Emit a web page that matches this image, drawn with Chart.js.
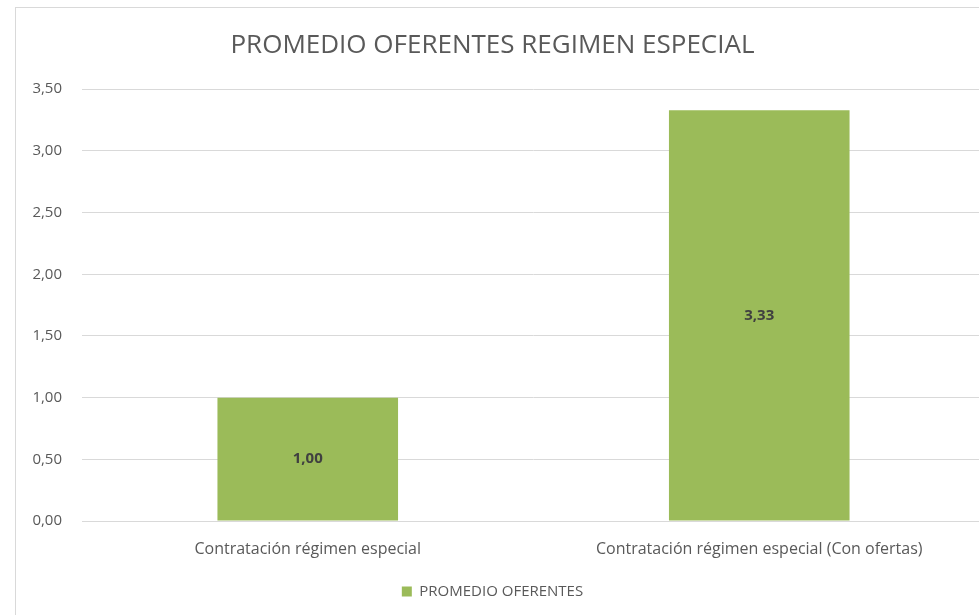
<!DOCTYPE html>
<html>
<head>
<meta charset="utf-8">
<script src="https://cdn.jsdelivr.net/npm/chart.js@4/dist/chart.umd.min.js"></script>
<style>
  html, body { margin: 0; padding: 0; background: #fff; overflow: hidden; }
  body { width: 979px; height: 615px; position: relative; }
  #frame { position: absolute; left: 15px; top: 7px; width: 1000px; height: 700px; border: 1px solid #d9d9d9; box-sizing: border-box; }
  #wrap { position: absolute; left: 0; top: 0; width: 992px; height: 615px; }
</style>
</head>
<body>
<div id="frame"></div>
<div id="wrap"><canvas id="grafica"></canvas></div>
<script>
// Datos del grafico
const categorias = ['Contratación régimen especial', 'Contratación régimen especial (Con ofertas)'];
const promedioOferentes = [1.00, 3.33];
const serieNombre = 'PROMEDIO OFERENTES';
const titulo = 'PROMEDIO OFERENTES REGIMEN ESPECIAL';

const fuente = "'Open Sans', 'Liberation Sans', sans-serif";
const gris = '#595959';

function coma(v) {
    return Number(v).toFixed(2).replace('.', ',');
}

// Etiquetas dentro de las barras
const etiquetas = {
    id: 'etiquetas',
    afterDatasetsDraw(chart) {
        const ctx = chart.ctx;
        const meta = chart.getDatasetMeta(0);
        ctx.save();
        ctx.font = 'bold 15px ' + fuente;
        ctx.fillStyle = '#404040';
        ctx.textAlign = 'center';
        ctx.textBaseline = 'middle';
        meta.data.forEach((bar, i) => {
            const y = (bar.y + bar.base) / 2;
            ctx.fillText(coma(chart.data.datasets[0].data[i]), bar.x, y);
        });
        ctx.restore();
    }
};

new Chart(document.getElementById('grafica'), {
    type: 'bar',
    data: {
        labels: categorias,
        datasets: [{
            label: serieNombre,
            data: promedioOferentes,
            backgroundColor: '#9bbb59',
            categoryPercentage: 1,
            barPercentage: 0.4
        }]
    },
    options: {
        responsive: true,
        maintainAspectRatio: false,
        animation: false,
        layout: { padding: { left: 0, right: 7, top: 0, bottom: 6 } },
        plugins: {
            title: {
                display: true,
                text: titulo,
                color: gris,
                font: { family: fuente, size: 26, weight: 'normal' },
                padding: { top: 30, bottom: 28 }
            },
            legend: {
                position: 'bottom',
                labels: {
                    color: gris,
                    font: { family: fuente, size: 15 },
                    boxWidth: 10,
                    boxHeight: 10,
                    padding: 10
                }
            },
            tooltip: { enabled: false }
        },
        scales: {
            x: {
                afterFit(scale) { scale.height = 53; },
                grid: { display: false, drawTicks: false },
                border: { color: '#d9d9d9' },
                ticks: { color: gris, font: { family: fuente, size: 16 }, padding: 19 }
            },
            y: {
                min: 0,
                max: 3.5,
                afterFit(scale) { scale.width = 82; },
                grid: { color: '#d9d9d9', drawTicks: false },
                border: { display: false },
                ticks: {
                    stepSize: 0.5,
                    color: gris,
                    font: { family: fuente, size: 15 },
                    padding: 20,
                    callback: v => coma(v)
                }
            }
        }
    },
    plugins: [etiquetas]
});
</script>
</body>
</html>
